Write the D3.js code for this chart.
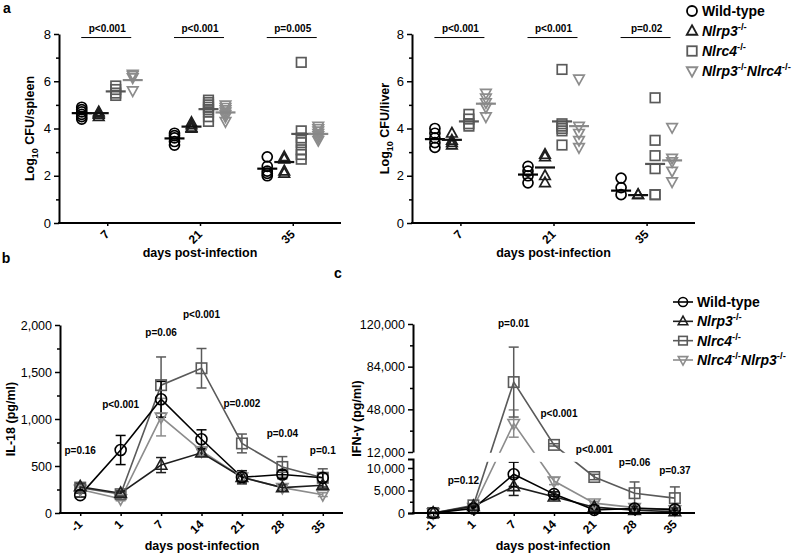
<!DOCTYPE html>
<html><head><meta charset="utf-8">
<script src="https://cdn.jsdelivr.net/npm/d3@7"></script>
<style>body{margin:0;background:#fff} svg{display:block}</style>
</head><body><svg id="c" width="800" height="557"></svg>
<script>
// ---------------- DATA ----------------
const cfuDays = ["7","21","35"];
const groupKeys = ["wt","nlrp3","nlrc4","dko"];

// Panel a – spleen (log10 CFU), one array per day
const spleenWT    = [[4.4,4.5,4.6,4.7,4.8,4.9],[3.3,3.45,3.6,3.7,3.8],[2.0,2.1,2.2,2.4,2.8]];
const spleenNlrp3 = [[4.5,4.6,4.65,4.7],[4.0,4.05,4.15,4.25],[2.1,2.2,2.7,2.8]];
const spleenNlrc4 = [[5.4,5.5,5.65,5.8],[4.3,4.5,4.7,4.8,4.9,5.0,5.1,5.2],[2.7,2.9,3.1,3.4,3.6,3.9,6.8]];
const spleenDko   = [[5.6,6.15,6.25,6.3],[4.3,4.5,4.6,4.7,4.8,4.9,5.0],[3.5,3.6,3.7,3.8,3.9,4.0,4.1]];
const spleenMeans = {wt:[4.65,3.58,2.3], nlrp3:[4.65,4.08,2.58], nlrc4:[5.57,4.82,3.77], dko:[6.05,4.68,3.77]};
const spleenP = ["p<0.001","p<0.001","p=0.005"];

// Panel a – liver
const liverWT    = [[3.2,3.4,3.6,3.8,4.0],[1.7,2.0,2.2,2.4],[1.2,1.5,1.9]];
const liverNlrp3 = [[3.3,3.4,3.5,3.8],[1.7,2.0,2.8,2.9],[1.2,1.2]];
const liverNlrc4 = [[4.1,4.2,4.4,4.6],[3.3,3.9,4.0,4.1,4.2,6.5],[1.2,1.2,2.3,2.85,3.5,5.3]];
const liverDko   = [[4.5,4.9,5.1,5.3,5.5],[3.2,3.5,3.8,4.1,6.1],[1.75,2.2,2.6,2.75,4.05]];
const liverMeans = {wt:[3.55,2.05,1.37], nlrp3:[3.52,2.35,1.18], nlrc4:[4.3,4.3,2.5], dko:[5.05,4.1,2.65]};
const liverP = ["p<0.001","p<0.001","p=0.02"];
const pLineLevel = 7.85;

// Panel b – IL-18 (pg/ml)
const timeDays = ["-1","1","7","14","21","28","35"];
const il18WT       = [190,670,1210,785,380,410,375];
const il18WTErr    = [20,155,190,100,50,45,45];
const il18Nlrp3    = [280,210,510,640,380,270,295];
const il18Nlrp3Err = [30,25,80,35,70,30,30];
const il18Nlrc4    = [270,200,1360,1540,740,490,375];
const il18Nlrc4Err = [25,25,300,210,100,110,95];
const il18Dko      = [250,150,1020,660,380,270,195];
const il18DkoErr   = [25,20,200,35,40,30,20];
const il18PText  = ["p=0.16","p<0.001","p=0.06","p<0.001","p=0.002","p=0.04","p=0.1"];
const il18PLevel = [670,1150,1925,2117,1170,851,670];

// Panel c – IFN-gamma (pg/ml)
const ifnWT       = [0,1000,8600,4200,700,1000,800];
const ifnWTErr    = [100,300,2700,500,300,400,300];
const ifnNlrp3    = [0,1500,5900,3600,1300,600,300];
const ifnNlrp3Err = [100,300,2000,500,300,300,200];
const ifnNlrc4    = [0,1700,71000,18000,8000,4400,3300];
const ifnNlrc4Err = [100,300,29500,1000,600,2500,2500];
const ifnDko      = [0,1200,36000,7100,2200,1200,700];
const ifnDkoErr   = [100,300,11500,800,400,400,300];
const ifnPDay   = ["1","7","14","21","28","35"];
const ifnPText  = ["p=0.12","p=0.01","p<0.001","p<0.001","p=0.06","p=0.37"];
const ifnPLevel = [7300,120800,44900,14500,11300,9550];
const ifnLowTicks = [0,5000,10000];
const ifnHighTicks = [12000,48000,84000,120000];

// ---------------- STYLE ----------------
const FONT = "'Liberation Sans', Arial, Helvetica, sans-serif";
const colors = {wt:"#000000", nlrp3:"#1e1e1e", nlrc4:"#5a5a5a", dko:"#8c8c8c"};
const meanColors = {wt:"#000000", nlrp3:"#111111", nlrc4:"#555555", dko:"#888888"};
const shapes = {wt:"circle", nlrp3:"tri", nlrc4:"square", dko:"invtri"};

const svg = d3.select("#c");

function marker(g, shape, cx, cy, r, color, sw) {
  let el;
  if (shape === "circle") {
    el = g.append("circle").attr("cx", cx).attr("cy", cy).attr("r", r);
  } else if (shape === "square") {
    const s = r * 0.95;
    el = g.append("rect").attr("x", cx - s).attr("y", cy - s).attr("width", 2 * s).attr("height", 2 * s);
  } else if (shape === "tri") {
    el = g.append("path").attr("d", `M${cx},${cy - r * 1.15}L${cx + r * 1.05},${cy + r * 0.75}L${cx - r * 1.05},${cy + r * 0.75}Z`);
  } else {
    el = g.append("path").attr("d", `M${cx},${cy + r * 1.15}L${cx + r * 1.05},${cy - r * 0.75}L${cx - r * 1.05},${cy - r * 0.75}Z`);
  }
  el.attr("fill", "none").attr("stroke", color).attr("stroke-width", sw);
}

function styleAxis(g, fs, bold) {
  g.select(".domain").attr("stroke", "#000").attr("stroke-width", 2);
  g.selectAll(".tick line").attr("stroke", "#000").attr("stroke-width", 1.5);
  g.selectAll(".tick text").attr("font-family", FONT).attr("font-size", fs)
    .attr("font-weight", bold ? "bold" : "normal").attr("fill", "#000");
}

function minorAxis(g, axisGen) {
  const m = g.append("g").call(axisGen);
  m.select(".domain").remove();
  m.selectAll(".tick line").attr("stroke", "#000").attr("stroke-width", 1.5);
  return m;
}

function rotatedXLabels(g, x, yPos, fs) {
  x.domain().forEach(d => {
    g.append("text").attr("transform", `translate(${x(d)},${yPos}) rotate(-45)`)
      .attr("text-anchor", "end").attr("dy", "0.35em")
      .attr("font-family", FONT).attr("font-size", fs).attr("font-weight", "bold").text(d);
  });
}

function label(g, x, y, txt, fs, opts = {}) {
  return g.append("text").attr("x", x).attr("y", y).attr("text-anchor", opts.anchor || "middle")
    .attr("dy", opts.dy || "0.35em").attr("font-family", FONT).attr("font-size", fs)
    .attr("font-weight", opts.weight || "bold").text(txt);
}

function yTitle(g, x, y, parts, fs) {
  const t = g.append("text").attr("transform", `translate(${x},${y}) rotate(-90)`)
    .attr("text-anchor", "middle").attr("dy", "0.35em")
    .attr("font-family", FONT).attr("font-size", fs).attr("font-weight", "bold");
  parts.forEach(p => {
    const s = t.append("tspan").text(p.t);
    if (p.sub) s.attr("font-size", fs * 0.72).attr("dy", fs * 0.3);
    if (p.back) s.attr("dy", -fs * 0.3);
  });
}

function genotypeText(t, parts, fs) {
  let up = false;
  parts.forEach(p => {
    const s = t.append("tspan").text(p.t);
    if (p.sup) { s.attr("font-size", fs * 0.68).attr("dy", -fs * 0.42); up = true; }
    else { s.attr("font-style", p.it ? "italic" : "normal"); if (up) { s.attr("dy", fs * 0.42); up = false; } }
  });
}
const legendA = [
  [{t:"Wild-type"}],
  [{t:"Nlrp3", it:true},{t:"-/-", sup:true}],
  [{t:"Nlrc4", it:true},{t:"-/-", sup:true}],
  [{t:"Nlrp3", it:true},{t:"-/-", sup:true},{t:"Nlrc4", it:true},{t:"-/-", sup:true}]
];
const legendB = [
  [{t:"Wild-type"}],
  [{t:"Nlrp3", it:true},{t:"-/-", sup:true}],
  [{t:"Nlrc4", it:true},{t:"-/-", sup:true}],
  [{t:"Nlrc4", it:true},{t:"-/-", sup:true},{t:"Nlrp3", it:true},{t:"-/-", sup:true}]
];

// ---------------- PANEL a ----------------
function drawCFU(cfg) {
  const g = svg.append("g");
  const y = d3.scaleLinear().domain([0, 8]).range([223, 34]);
  const x = d3.scalePoint().domain(cfuDays).range([cfg.x0, cfg.x1]).padding(0.52);
  const off = d3.scalePoint().domain(groupKeys).range([-25.5, 25.5]);

  const ya = g.append("g").attr("transform", `translate(${cfg.x0},0)`)
    .call(d3.axisLeft(y).tickValues([0, 2, 4, 6, 8]).tickSize(5).tickSizeOuter(0).tickPadding(3));
  styleAxis(ya, 13, false);
  minorAxis(g.append("g").attr("transform", `translate(${cfg.x0},0)`), d3.axisLeft(y).tickValues([1, 3, 5, 7]).tickSize(3).tickFormat(""));
  const xa = g.append("g").attr("transform", `translate(0,${y(0)})`)
    .call(d3.axisBottom(x).tickSize(3).tickSizeOuter(0).tickFormat(""));
  styleAxis(xa, 12, true);
  xa.select(".domain").attr("d", `M${cfg.x0 - 1},0H${cfg.x1}`);
  rotatedXLabels(g, x, y(0) + 9, 12);

  label(g, (cfg.x0 + cfg.x1) / 2, 253, "days post-infection", 12.5);
  yTitle(g, cfg.yTitleX, (y(0) + y(8)) / 2, [{t:"Log"},{t:"10", sub:true},{t:" CFU/" + cfg.organ, back:true}], 12.5);

  groupKeys.forEach(k => {
    cfg.points[k].forEach((vals, di) => {
      const cx = x(cfuDays[di]) + off(k);
      vals.forEach(v => marker(g, shapes[k], cx, y(v), 5, colors[k], 1.7));
    });
  });
  groupKeys.forEach(k => {
    cfg.means[k].forEach((m, di) => {
      const cx = x(cfuDays[di]) + off(k);
      g.append("line").attr("x1", cx - 10).attr("x2", cx + 10).attr("y1", y(m)).attr("y2", y(m))
        .attr("stroke", meanColors[k]).attr("stroke-width", 2.2);
    });
  });
  cfg.p.forEach((t, di) => {
    const cx = x(cfuDays[di]);
    g.append("line").attr("x1", cx - 26).attr("x2", cx + 24).attr("y1", y(pLineLevel)).attr("y2", y(pLineLevel))
      .attr("stroke", "#000").attr("stroke-width", 1);
    label(g, cx, y(pLineLevel) - 9, t, 10);
  });
}

drawCFU({x0:59, x1:341, organ:"spleen", yTitleX:30,
  points:{wt:spleenWT, nlrp3:spleenNlrp3, nlrc4:spleenNlrc4, dko:spleenDko}, means:spleenMeans, p:spleenP});
drawCFU({x0:412, x1:695, organ:"liver", yTitleX:385,
  points:{wt:liverWT, nlrp3:liverNlrp3, nlrc4:liverNlrc4, dko:liverDko}, means:liverMeans, p:liverP});

// legend a
{
  const g = svg.append("g");
  const ly = d3.scalePoint().domain(groupKeys).range([11, 71]);
  groupKeys.forEach((k, i) => {
    marker(g, shapes[k], 692, ly(k), 5, colors[k], 1.8);
    const t = g.append("text").attr("x", 702).attr("y", ly(k)).attr("dy", "0.36em")
      .attr("font-family", FONT).attr("font-size", 14).attr("font-weight", "bold");
    genotypeText(t, legendA[i], 14);
  });
}

// ---------------- PANEL b ----------------
const il18Series = {
  wt:{v:il18WT, e:il18WTErr}, nlrp3:{v:il18Nlrp3, e:il18Nlrp3Err},
  nlrc4:{v:il18Nlrc4, e:il18Nlrc4Err}, dko:{v:il18Dko, e:il18DkoErr}
};
const drawOrder = ["dko","nlrc4","nlrp3","wt"];

function drawSeries(g, series, x, yf, r) {
  drawOrder.forEach(k => {
    const s = series[k];
    const pts = s.v.map((v, i) => [x(timeDays[i]), yf(v)]);
    g.append("path").attr("d", d3.line()(pts)).attr("fill", "none")
      .attr("stroke", colors[k]).attr("stroke-width", 1.6);
    s.v.forEach((v, i) => {
      const cx = x(timeDays[i]);
      const y1 = yf(v + s.e[i]), y2 = yf(Math.max(0, v - s.e[i]));
      g.append("line").attr("x1", cx).attr("x2", cx).attr("y1", y1).attr("y2", y2).attr("stroke", colors[k]).attr("stroke-width", 1.5);
      [y1, y2].forEach(yy => g.append("line").attr("x1", cx - 5).attr("x2", cx + 5).attr("y1", yy).attr("y2", yy)
        .attr("stroke", colors[k]).attr("stroke-width", 1.5));
    });
  });
  drawOrder.forEach(k => {
    series[k].v.forEach((v, i) => marker(g, shapes[k], x(timeDays[i]), yf(v), r, colors[k], 1.6));
  });
}

{
  const g = svg.append("g");
  const y = d3.scaleLinear().domain([0, 2000]).range([513, 325]);
  const x = d3.scalePoint().domain(timeDays).range([60, 343]).padding(0.5);
  const ya = g.append("g").attr("transform", "translate(60,0)")
    .call(d3.axisLeft(y).tickValues([0, 500, 1000, 1500, 2000]).tickSize(5).tickSizeOuter(0).tickPadding(3).tickFormat(d3.format(",")));
  styleAxis(ya, 12.5, false);
  minorAxis(g.append("g").attr("transform", "translate(60,0)"), d3.axisLeft(y).tickValues([250, 750, 1250, 1750]).tickSize(3).tickFormat(""));
  const xa = g.append("g").attr("transform", `translate(0,${y(0)})`)
    .call(d3.axisBottom(x).tickSize(3).tickSizeOuter(0).tickFormat(""));
  styleAxis(xa, 12, true);
  xa.select(".domain").attr("d", "M59,0H343");
  rotatedXLabels(g, x, y(0) + 9, 12);
  label(g, 202, 546, "days post-infection", 12.5);
  yTitle(g, 11, (y(0) + y(2000)) / 2, [{t:"IL-18 (pg/ml)"}], 12.5);

  drawSeries(g, il18Series, x, y, 5.5);
  il18PText.forEach((t, i) => label(g, x(timeDays[i]), y(il18PLevel[i]), t, 10));
}

// ---------------- PANEL c ----------------
const ifnSeries = {
  wt:{v:ifnWT, e:ifnWTErr}, nlrp3:{v:ifnNlrp3, e:ifnNlrp3Err},
  nlrc4:{v:ifnNlrc4, e:ifnNlrc4Err}, dko:{v:ifnDko, e:ifnDkoErr}
};
{
  const g = svg.append("g");
  const yLow = d3.scaleLinear().domain([0, 12000]).range([513, 459]);
  const yHigh = d3.scaleLinear().domain([12000, 120000]).range([452, 324]);
  const yf = v => v <= 12000 ? yLow(v) : yHigh(v);
  const x = d3.scalePoint().domain(timeDays).range([413, 695]).padding(0.5);

  const plot = g.append("g");
  drawSeries(plot, ifnSeries, x, yf, 5.5);
  // axis break gap
  g.append("rect").attr("x", 415).attr("y", yHigh(12000) + 0.8).attr("width", 290)
    .attr("height", yLow(12000) - yHigh(12000) + 2).attr("fill", "#fff");

  const fmt = d3.format(",");
  const yaL = g.append("g").attr("transform", "translate(413,0)")
    .call(d3.axisLeft(yLow).tickValues(ifnLowTicks).tickSize(5).tickSizeOuter(5).tickPadding(3).tickFormat(fmt));
  styleAxis(yaL, 12.5, false);
  minorAxis(g.append("g").attr("transform", "translate(413,0)"), d3.axisLeft(yLow).tickValues([2500, 7500]).tickSize(3).tickFormat(""));
  const yaH = g.append("g").attr("transform", "translate(413,0)")
    .call(d3.axisLeft(yHigh).tickValues(ifnHighTicks).tickSize(5).tickSizeOuter(0).tickPadding(3).tickFormat(fmt));
  styleAxis(yaH, 12.5, false);
  minorAxis(g.append("g").attr("transform", "translate(413,0)"), d3.axisLeft(yHigh).tickValues([30000, 66000, 102000]).tickSize(3).tickFormat(""));

  const xa = g.append("g").attr("transform", `translate(0,${yLow(0)})`)
    .call(d3.axisBottom(x).tickSize(3).tickSizeOuter(0).tickFormat(""));
  styleAxis(xa, 12, true);
  xa.select(".domain").attr("d", "M412,0H695");
  rotatedXLabels(g, x, yLow(0) + 9, 12);
  label(g, 553, 546, "days post-infection", 12.5);
  yTitle(g, 357, (yLow(0) + yHigh(120000)) / 2, [{t:"IFN-\u03b3 (pg/ml)"}], 12.5);

  ifnPText.forEach((t, i) => {
    const nudge = ifnPDay[i] === "1" ? -10 : (ifnPDay[i] === "14" ? 5 : 0);
    label(g, x(ifnPDay[i]) + nudge, yf(ifnPLevel[i]), t, 10);
  });
}

// legend b/c
{
  const g = svg.append("g");
  const ly = d3.scalePoint().domain(groupKeys).range([302, 360]);
  groupKeys.forEach((k, i) => {
    g.append("line").attr("x1", 673).attr("x2", 693).attr("y1", ly(k)).attr("y2", ly(k))
      .attr("stroke", colors[k]).attr("stroke-width", 1.6);
    marker(g, shapes[k], 683, ly(k), 4.5, colors[k], 1.6);
    const t = g.append("text").attr("x", 697).attr("y", ly(k)).attr("dy", "0.36em")
      .attr("font-family", FONT).attr("font-size", 14).attr("font-weight", "bold");
    genotypeText(t, legendB[i], 14);
  });
}

// panel letters
label(svg, 7, 8, "a", 14, {anchor:"middle"});
label(svg, 6, 258, "b", 14, {anchor:"middle"});
label(svg, 338, 273, "c", 14, {anchor:"middle"});
</script>
</body></html>
